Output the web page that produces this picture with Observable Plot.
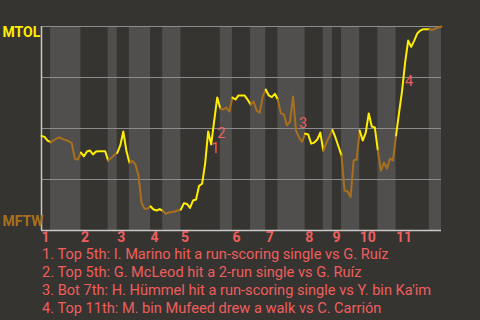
<!DOCTYPE html>
<html>
<head>
<meta charset="utf-8">
<script src="https://cdn.jsdelivr.net/npm/d3@7"></script>
<script src="https://cdn.jsdelivr.net/npm/@observablehq/plot@0.6"></script>
<style>
  html, body { margin: 0; padding: 0; background: #363430; width: 480px; height: 320px; overflow: hidden; }
  #chart svg { display: block; }
  #cap { margin-top: -5px; padding-left: 42px; color: #ee5e5e; font-family: Roboto, "Noto Sans", sans-serif; font-size: 14.6px; line-height: 18px; white-space: nowrap; }
</style>
</head>
<body>
<div id="chart"></div>
<div id="cap"></div>
<script>
// half-inning boundaries (plate-appearance index); even = top half (MTOL bats), odd = bottom half
const halfStarts = [0,3,13,22,25,29,36,40,46,59,63,69,74,78,87,93,96,99,105,111,117,128,132];
// MTOL win probability after each plate appearance
const wp = [
  0.463,0.459,0.441,0.433,0.442,0.451,0.456,0.448,0.444,0.437,
  0.428,0.351,0.348,0.382,0.364,0.387,0.392,0.373,0.387,0.389,
  0.389,0.389,0.343,0.355,0.370,0.380,0.417,0.485,0.392,0.332,
  0.341,0.324,0.270,0.137,0.106,0.108,0.118,0.103,0.098,0.105,
  0.096,0.082,0.088,0.091,0.093,0.098,0.103,0.134,0.130,0.111,
  0.147,0.152,0.219,0.229,0.328,0.485,0.422,0.539,0.652,0.598,
  0.593,0.603,0.583,0.652,0.642,0.662,0.662,0.662,0.642,0.618,
  0.632,0.588,0.578,0.657,0.691,0.662,0.654,0.670,0.642,0.574,
  0.569,0.515,0.534,0.657,0.490,0.456,0.434,0.475,0.471,0.426,
  0.431,0.446,0.480,0.392,0.431,0.461,0.493,0.456,0.412,0.368,
  0.196,0.191,0.164,0.343,0.348,0.490,0.441,0.480,0.574,0.510,
  0.505,0.392,0.294,0.333,0.304,0.353,0.343,0.466,0.578,0.686,
  0.824,0.931,0.900,0.931,0.966,0.980,0.987,0.987,0.987,0.983,
  0.990,0.995,1.000
];
const inningLabels = ["1","2","3","4","5","6","7","8","9","10","11"];
const teamTop = "MTOL";
const teamBottom = "MFTW";
const eventNums = ["1","2","3","4"];
const eventAt = [55, 57, 84, 119];
const eventP = [0.402, 0.475, 0.525, 0.729];
const captions = [
  "1. Top 5th: I. Marino hit a run-scoring single vs G. Ruíz",
  "2. Top 5th: G. McLeod hit a 2-run single vs G. Ruíz",
  "3. Bot 7th: H. Hümmel hit a run-scoring single vs Y. bin Ka'im",
  "4. Top 11th: M. bin Mufeed drew a walk vs C. Carrión"
];

const YEL = "#ffee00", BRN = "#a8701e", SAL = "#ee5e5e";

const seg = [];
for (let h = 0; h < halfStarts.length - 1; h++) {
  for (let i = halfStarts[h]; i <= halfStarts[h + 1]; i++) {
    seg.push({i, p: wp[i], h, top: h % 2 === 0});
  }
}
const bands = [];
for (let h = 1; h < halfStarts.length - 1; h += 2) bands.push({x1: halfStarts[h], x2: halfStarts[h + 1]});
const inn = inningLabels.map((t, k) => ({t, x: halfStarts[2 * k]}));
const evs = eventNums.map((t, k) => ({t, x: eventAt[k], p: eventP[k]}));

const chart = Plot.plot({
  width: 480, height: 250,
  marginLeft: 41, marginRight: 39, marginTop: 26, marginBottom: 20,
  style: {background: "#363430", fontFamily: "Roboto, 'Noto Sans', sans-serif"},
  x: {domain: [0, 132], axis: null},
  y: {domain: [0, 1], axis: null},
  color: {type: "identity"},
  marks: [
    Plot.rect(bands, {x1: "x1", x2: "x2", y1: 0, y2: 1, fill: "#504f4d"}),
    Plot.ruleY([0.25, 0.5, 0.75, 1], {stroke: "#8c8c8c", strokeWidth: 1}),
    Plot.ruleY([0], {stroke: "#c8c8c8", strokeWidth: 1.5}),
    Plot.ruleX([0], {stroke: "#c8c8c8", strokeWidth: 1.5}),
    Plot.line(seg, {x: "i", y: "p", z: "h", stroke: d => d.top ? YEL : BRN, strokeWidth: 2}),
    Plot.text(evs, {x: "x", y: "p", text: "t", dx: 3, textAnchor: "start", fill: SAL, fontSize: 14.5}),
    Plot.text(inn, {x: "x", y: 0, text: "t", dy: 7.5, textAnchor: "start", lineAnchor: "middle", fill: SAL, fontSize: 14, fontWeight: "bold"}),
    Plot.text([teamTop], {frameAnchor: "top-left", text: d => d, dx: -39, dy: 6, textAnchor: "start", lineAnchor: "middle", fill: YEL, fontSize: 14, fontWeight: "bold"}),
    Plot.text([teamBottom], {frameAnchor: "bottom-left", text: d => d, dx: -39, dy: -9, textAnchor: "start", lineAnchor: "middle", fill: BRN, fontSize: 14, fontWeight: "bold"})
  ]
});
document.getElementById("chart").appendChild(chart);
const cap = document.getElementById("cap");
captions.forEach(c => { const d = document.createElement("div"); d.textContent = c; cap.appendChild(d); });
</script>
</body>
</html>
